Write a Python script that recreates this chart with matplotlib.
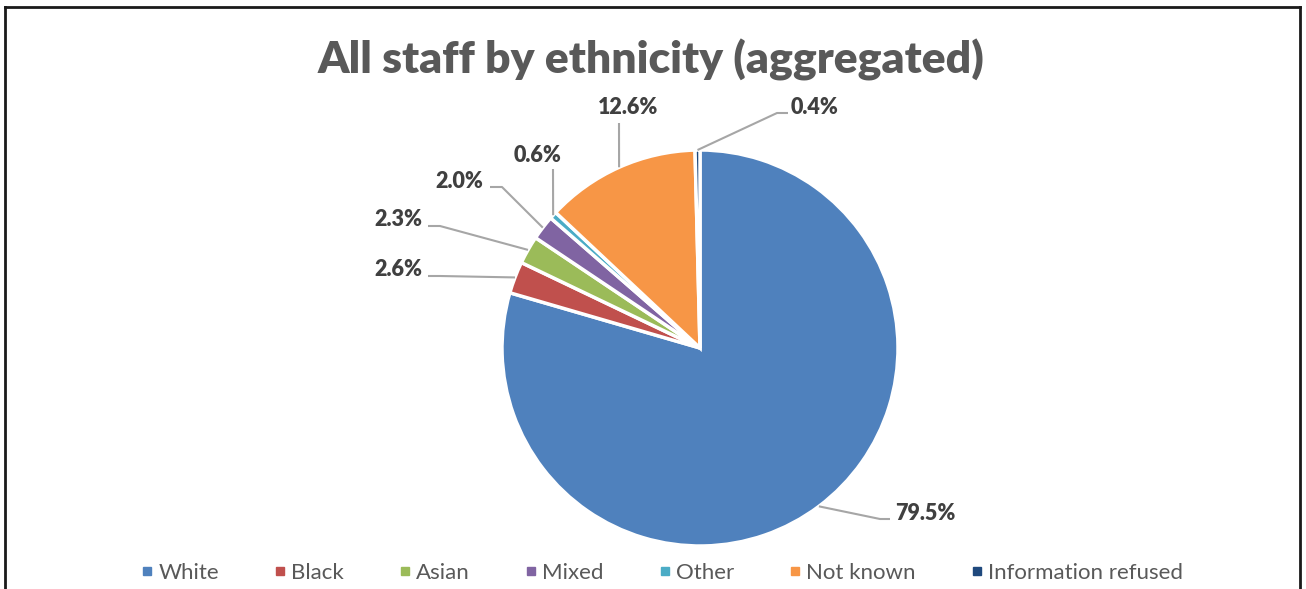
import numpy as np
import matplotlib
matplotlib.use("Agg")
import matplotlib.pyplot as plt
from matplotlib.lines import Line2D

plt.rcParams['font.family'] = ['Lato', 'DejaVu Sans']

categories = ['White', 'Black', 'Asian', 'Mixed', 'Other', 'Not known', 'Information refused']
shares = [79.5, 2.6, 2.3, 2.0, 0.6, 12.6, 0.4]
colors = ['#4F81BD', '#C0504D', '#9BBB59', '#8064A2', '#4BACC6', '#F79646', '#1F497D']

W, H = 1306, 589
CX, CY, R = 700, 348, 198  # pie centre and radius in pixels


def to_data(px, py):
    return (px - CX) / R, (CY - py) / R


# label text position and leader-line bends (pixels) for each slice
label_pos = [(925, 513), (398, 269), (398, 219), (459, 181), (538, 156), (628, 108), (815, 108)]
bends = [[(880, 519), (890, 519)],
         [(440, 276), (428, 276)],
         [(440, 226), (428, 226)],
         [(502, 187), (490, 187)],
         [(553, 169)],
         [(619, 123)],
         [(777, 113), (788, 113)]]

fig = plt.figure(figsize=(W / 100, H / 100), dpi=100)
ax = fig.add_axes([0, 0, 1, 1])

wedges, _ = ax.pie(shares, colors=colors, startangle=90, counterclock=False,
                   radius=1, wedgeprops=dict(edgecolor='white', linewidth=2.5))

ax.set_xlim(-CX / R, (W - CX) / R)
ax.set_ylim((CY - H) / R, CY / R)
ax.set_aspect('equal')
ax.axis('off')

total = sum(shares)
cum = 0
for i, v in enumerate(shares):
    mid = cum + v / 2
    cum += v
    ang = np.deg2rad(90 - 360 * mid / total)
    pts = [(np.cos(ang), np.sin(ang))] + [to_data(*b) for b in bends[i]]
    xs, ys = zip(*pts)
    ax.plot(xs, ys, color='#A6A6A6', lw=1.5, solid_capstyle='butt')
    lx, ly = to_data(*label_pos[i])
    ax.text(lx, ly, f'{v:.1f}%', ha='center', va='center', fontsize=15.5,
            fontweight='heavy', color='#404040')

fig.text(651 / W, 1 - 60 / H, 'All staff by ethnicity (aggregated)', ha='center', va='center',
         fontsize=32, fontweight='heavy', color='#595959')

handles = [Line2D([], [], marker='s', ls='none', color=c, markersize=5.5) for c in colors]
fig.legend(handles, categories, loc='center', bbox_to_anchor=(660 / W, 1 - 573 / H), ncol=7,
           frameon=False, fontsize=16, labelcolor='#595959', handletextpad=0.05,
           columnspacing=2.3, handlelength=0.9)

# chart frame
frame = dict(color='#1A1A1A', lw=2, transform=fig.transFigure)
fig.add_artist(Line2D([5 / W, 5 / W], [0, 1 - 7 / H], **frame))
fig.add_artist(Line2D([5 / W, 1300 / W], [1 - 7 / H, 1 - 7 / H], **frame))
fig.add_artist(Line2D([1300 / W, 1300 / W], [0, 1 - 7 / H], **frame))

fig.savefig('out.png', dpi=100)
